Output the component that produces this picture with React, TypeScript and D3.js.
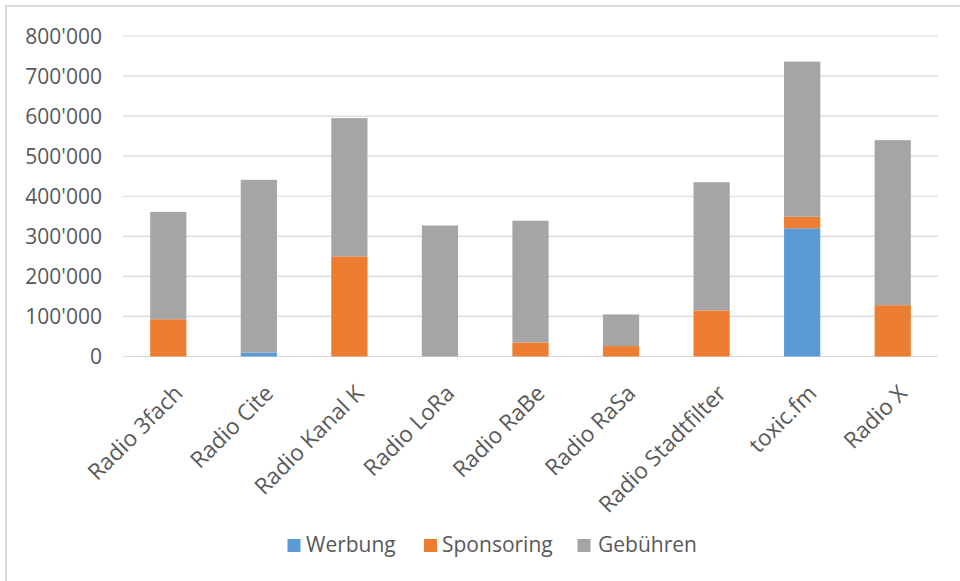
import React from "react";
import * as d3 from "d3";

const categories = [
  "Radio 3fach",
  "Radio Cite",
  "Radio Kanal K",
  "Radio LoRa",
  "Radio RaBe",
  "Radio RaSa",
  "Radio Stadtfilter",
  "toxic.fm",
  "Radio X",
];
const werbung = [0, 10000, 0, 0, 0, 0, 0, 320000, 0];
const sponsoring = [93000, 0, 250000, 0, 35000, 26000, 115000, 29000, 128000];
const gebuehren = [268000, 431000, 345000, 327000, 304000, 79000, 320000, 387000, 412000];
const seriesNames = ["Werbung", "Sponsoring", "Gebühren"];
const seriesColors = ["#5b9bd5", "#ed7d31", "#a5a5a5"];
const yTicks = [0, 100000, 200000, 300000, 400000, 500000, 600000, 700000, 800000];

const W = 960;
const H = 581;
const FONT = "'Open Sans', sans-serif";
const TEXT = "#595959";

export default function App() {
  const x = d3
    .scaleBand<string>()
    .domain(categories)
    .range([123, 938])
    .paddingInner(0.6)
    .paddingOuter(0.3);
  const y = d3.scaleLinear().domain([0, 800000]).range([356.5, 36]);

  const rows = categories.map((c, i) => ({
    cat: c,
    Werbung: werbung[i],
    Sponsoring: sponsoring[i],
    "Gebühren": gebuehren[i],
  }));
  const stacked = d3.stack<any>().keys(seriesNames)(rows);

  const fmt = (v: number) =>
    v === 0 ? "0" : d3.format(",")(v).replace(/,/g, "'");

  const legendItems = [
    { name: "Werbung", sx: 287.5, tx: 306 },
    { name: "Sponsoring", sx: 424, tx: 442 },
    { name: "Gebühren", sx: 577.5, tx: 598 },
  ];

  return (
    <svg
      width={W}
      height={H}
      style={{ position: "absolute", left: 0, top: 0, background: "#fff" }}
      fontFamily={FONT}
    >
      <rect x={0} y={0} width={W} height={H} fill="#fff" />
      <rect x={6} y={6} width={1200} height={1200} fill="none" stroke="#d9d9d9" strokeWidth={2} />
      {yTicks.map((t) => (
        <g key={t}>
          <line x1={123} x2={938} y1={y(t)} y2={y(t)} stroke="#d9d9d9" strokeWidth={1.2} />
          <text
            x={102}
            y={y(t)}
            dy="0.36em"
            textAnchor="end"
            fontSize={21}
            fill={TEXT}
          >
            {fmt(t)}
          </text>
        </g>
      ))}
      {stacked.map((s, si) => (
        <g key={s.key} fill={seriesColors[si]}>
          {s.map((d, i) =>
            d[1] - d[0] > 0 ? (
              <rect
                key={i}
                x={x(categories[i])}
                width={x.bandwidth()}
                y={y(d[1])}
                height={y(d[0]) - y(d[1])}
              />
            ) : null
          )}
        </g>
      ))}
      {categories.map((c) => {
        const cx = (x(c) as number) + x.bandwidth() / 2 + 4;
        const cy = 383;
        return (
          <text
            key={c}
            transform={`translate(${cx},${cy}) rotate(-45)`}
            textAnchor="end"
            dy="0.74em"
            fontSize={22.5}
            fill={TEXT}
          >
            {c}
          </text>
        );
      })}
      {legendItems.map((l, i) => (
        <g key={l.name}>
          <rect x={l.sx} y={539} width={13} height={13} fill={seriesColors[i]} />
          <text x={l.tx} y={552} fontSize={21} fill={TEXT}>
            {l.name}
          </text>
        </g>
      ))}
    </svg>
  );
}
